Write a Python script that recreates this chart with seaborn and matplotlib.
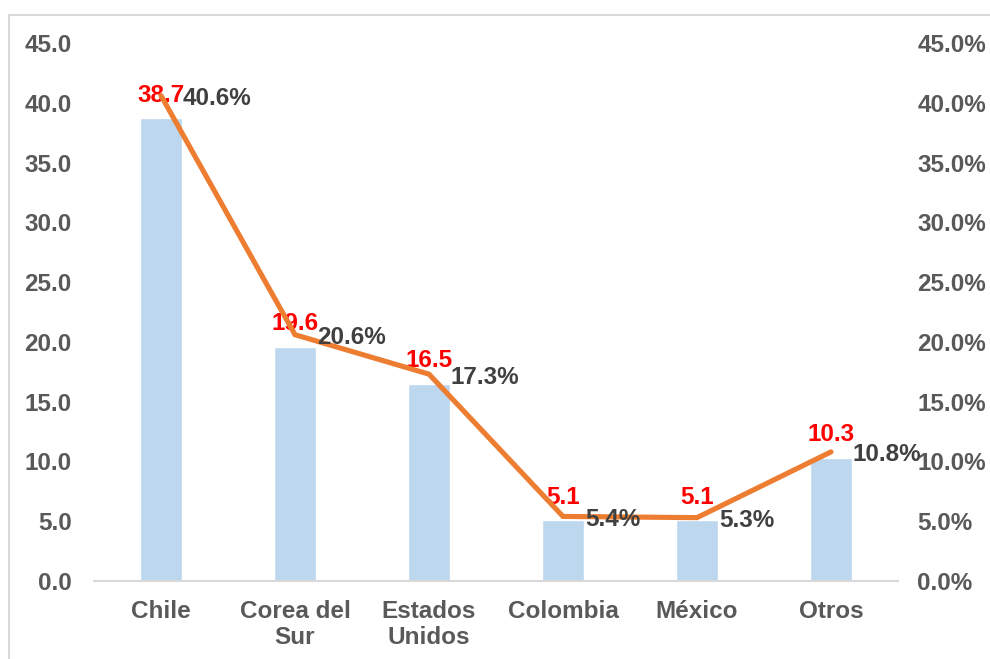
import matplotlib
matplotlib.use('Agg')
import matplotlib.pyplot as plt
from matplotlib.lines import Line2D
from matplotlib.ticker import PercentFormatter, MultipleLocator
import numpy as np
import pandas as pd
import seaborn as sns

paises = ['Chile', 'Corea del\nSur', 'Estados\nUnidos', 'Colombia', 'México', 'Otros']
valores = [38.7, 19.6, 16.5, 5.1, 5.1, 10.3]
porcentajes = [40.6, 20.6, 17.3, 5.4, 5.3, 10.8]

df = pd.DataFrame({'pais': paises, 'valor': valores, 'pct': porcentajes})
df['pos'] = np.arange(len(df))

sns.set_style('white')
plt.rcParams['font.family'] = ['Liberation Sans', 'DejaVu Sans']
plt.rcParams['font.weight'] = 'bold'
FS = 17.5

fig = plt.figure(figsize=(9.9, 6.59), dpi=100)
ax = fig.add_axes([94/990, 78/659, (898-94)/990, (581-43)/659])

sns.barplot(data=df, x='pais', y='valor', color='#BDD7EE', saturation=1,
            width=0.31, ax=ax)
ax2 = ax.twinx()
sns.lineplot(data=df, x='pos', y='pct', color='#ED7D31', linewidth=3.7,
             ax=ax2, solid_capstyle='round', solid_joinstyle='miter')

ax.set_xlim(-0.5, len(df) - 0.5)
ax.set_ylim(0, 45)
ax2.set_ylim(0, 45)
ax.yaxis.set_major_locator(MultipleLocator(5))
ax2.yaxis.set_major_locator(MultipleLocator(5))
ax.yaxis.set_major_formatter(lambda v, p: f'{v:.1f}')
ax2.yaxis.set_major_formatter(PercentFormatter(decimals=1))

tick_c = '#595959'
ax.tick_params(axis='y', length=0, pad=16, labelsize=FS, labelcolor=tick_c)
ax.tick_params(axis='x', length=0, pad=13.5, labelsize=FS, labelcolor=tick_c)
ax2.tick_params(axis='y', length=0, pad=14, labelsize=FS, labelcolor=tick_c)
ax.set_xlabel('')
ax.set_ylabel('')
ax2.set_xlabel('')
ax2.set_ylabel('')

for a in (ax, ax2):
    for s in ['left', 'right', 'top']:
        a.spines[s].set_visible(False)
    a.spines['bottom'].set_color('#D9D9D9')
    a.spines['bottom'].set_linewidth(1.5)
ax2.spines['bottom'].set_visible(False)
ax.grid(False)
ax2.grid(False)

for i, row in df.iterrows():
    ax.annotate(f"{row['valor']:.1f}", (row['pos'], row['valor']),
                xytext=(0, 23), textcoords='offset pixels', ha='center', va='center',
                color='#FF0000', fontsize=FS, fontweight='bold')
    ax2.annotate(f"{row['pct']:.1f}%", (row['pos'], row['pct']),
                 xytext=(22, -3), textcoords='offset pixels', ha='left', va='center',
                 color='#404040', fontsize=FS, fontweight='bold')

fig.add_artist(Line2D([9/990, 9/990], [0, 1 - 15/659], transform=fig.transFigure,
                      color='#D9D9D9', linewidth=1.5))
fig.add_artist(Line2D([9/990, 1], [1 - 15/659, 1 - 15/659], transform=fig.transFigure,
                      color='#D9D9D9', linewidth=1.5))

fig.canvas.draw()
for lab in ax.get_xticklabels() + ax.get_yticklabels() + ax2.get_yticklabels():
    lab.set_fontweight('bold')
for lab in ax.get_xticklabels():
    lab.set_linespacing(1.2)

fig.savefig('out.png', dpi=100)
